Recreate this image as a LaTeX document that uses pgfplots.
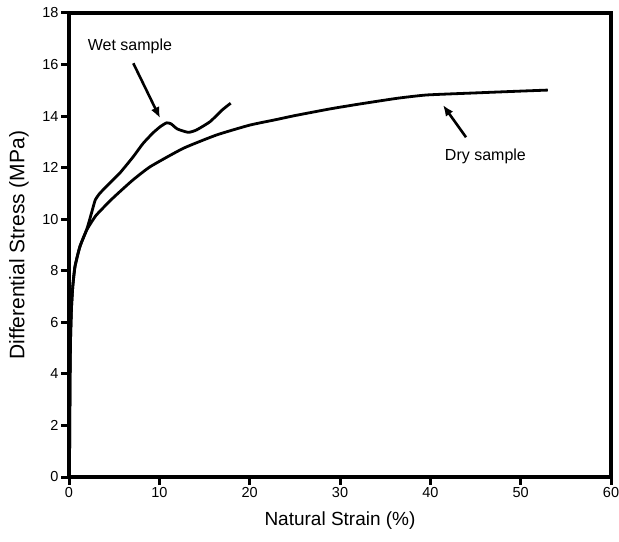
\documentclass[border=0pt]{standalone}
\usepackage{pgfplots}
\pgfplotsset{compat=1.18}
\usetikzlibrary{arrows.meta,calc}
\usepackage{fontspec}
\setmainfont{Liberation Sans}
\begin{document}
\begin{tikzpicture}
\begin{axis}[
  name=ax,
  scale only axis,
  width=542pt, height=464pt,
  xmin=0, xmax=60, ymin=0, ymax=18,
  xtick={0,10,...,60}, ytick={0,2,...,18},
  axis line style={line width=3.2pt},
  tick style={line width=3pt, black},
  tick align=outside,
  major tick length=7pt,
  xtick pos=bottom, ytick pos=left,
  /pgf/number format/assume math mode=true,
  tick label style={font=\fontsize{14.5}{16}\selectfont},
  xlabel={Natural Strain (\%)},
  ylabel={Differential Stress (MPa)},
  xlabel style={font=\fontsize{19}{21}\selectfont, at={(axis description cs:0.5,-0.0948)}, anchor=center},
  ylabel style={font=\fontsize{21}{23}\selectfont, at={(axis description cs:-0.0923,0.5)}, anchor=center},
  clip=false,
]
\draw[line width=3.2pt, line join=miter] (rel axis cs:0,0) rectangle (rel axis cs:1,1);
\pgfplotsinvokeforeach{0,10,20,30,40,50,60}{\draw[line width=3pt] (axis cs:#1,0) -- ++(0pt,-8pt);}
\pgfplotsinvokeforeach{0,2,4,6,8,10,12,14,16,18}{\draw[line width=3pt] (axis cs:0,#1) -- ++(-8pt,0pt);}
\addplot[line width=2.8pt, line join=round, smooth, tension=0.3] coordinates {
(0.05,0) (0.08,2) (0.12,4) (0.18,5.5) (0.28,6.6) (0.42,7.4) (0.66,8.16) (1.2,8.93) (1.96,9.58)
(3,10.15) (4.8,10.8) (7,11.5) (9,12.04) (12.65,12.75) (16.35,13.27) (20,13.65)
(23,13.87) (25,14.02) (28.9,14.28) (32,14.46) (36.3,14.69) (39.6,14.82) (45,14.9) (50,14.97) (53,15.01)
};
\addplot[line width=2.8pt, line join=round, smooth, tension=0.3] coordinates {
(0.05,0) (0.08,2) (0.12,4) (0.18,5.5) (0.28,6.6) (0.42,7.4) (0.66,8.16) (1.2,8.93) (1.96,9.6)
(2.5,10.25) (2.9,10.74) (3.4,11.0) (4.5,11.4) (5.65,11.8) (7.1,12.42) (8.2,12.94)
(9.3,13.35) (10.1,13.59) (10.8,13.74) (11.3,13.7) (12,13.5) (13.2,13.37) (14.1,13.46)
(15.6,13.78) (17,14.25) (17.9,14.5)
};
\draw[-{Latex[length=11pt,width=9pt]}, line width=2.6pt] (axis cs:7.12,16.05) -- (axis cs:10.08,13.92);
\draw[-{Latex[length=11pt,width=9pt]}, line width=2.6pt] (axis cs:43.95,13.18) -- (axis cs:41.4,14.43);
\node[font=\fontsize{16}{18}\selectfont] at (axis cs:6.75,16.72) {Wet sample};
\node[font=\fontsize{16}{18}\selectfont] at (axis cs:46.1,12.45) {Dry sample};
\end{axis}
\pgfresetboundingbox
\path ($(ax.south west)+(-69pt,-64pt)$) rectangle ($(ax.north east)+(8pt,13pt)$);
\end{tikzpicture}
\end{document}
